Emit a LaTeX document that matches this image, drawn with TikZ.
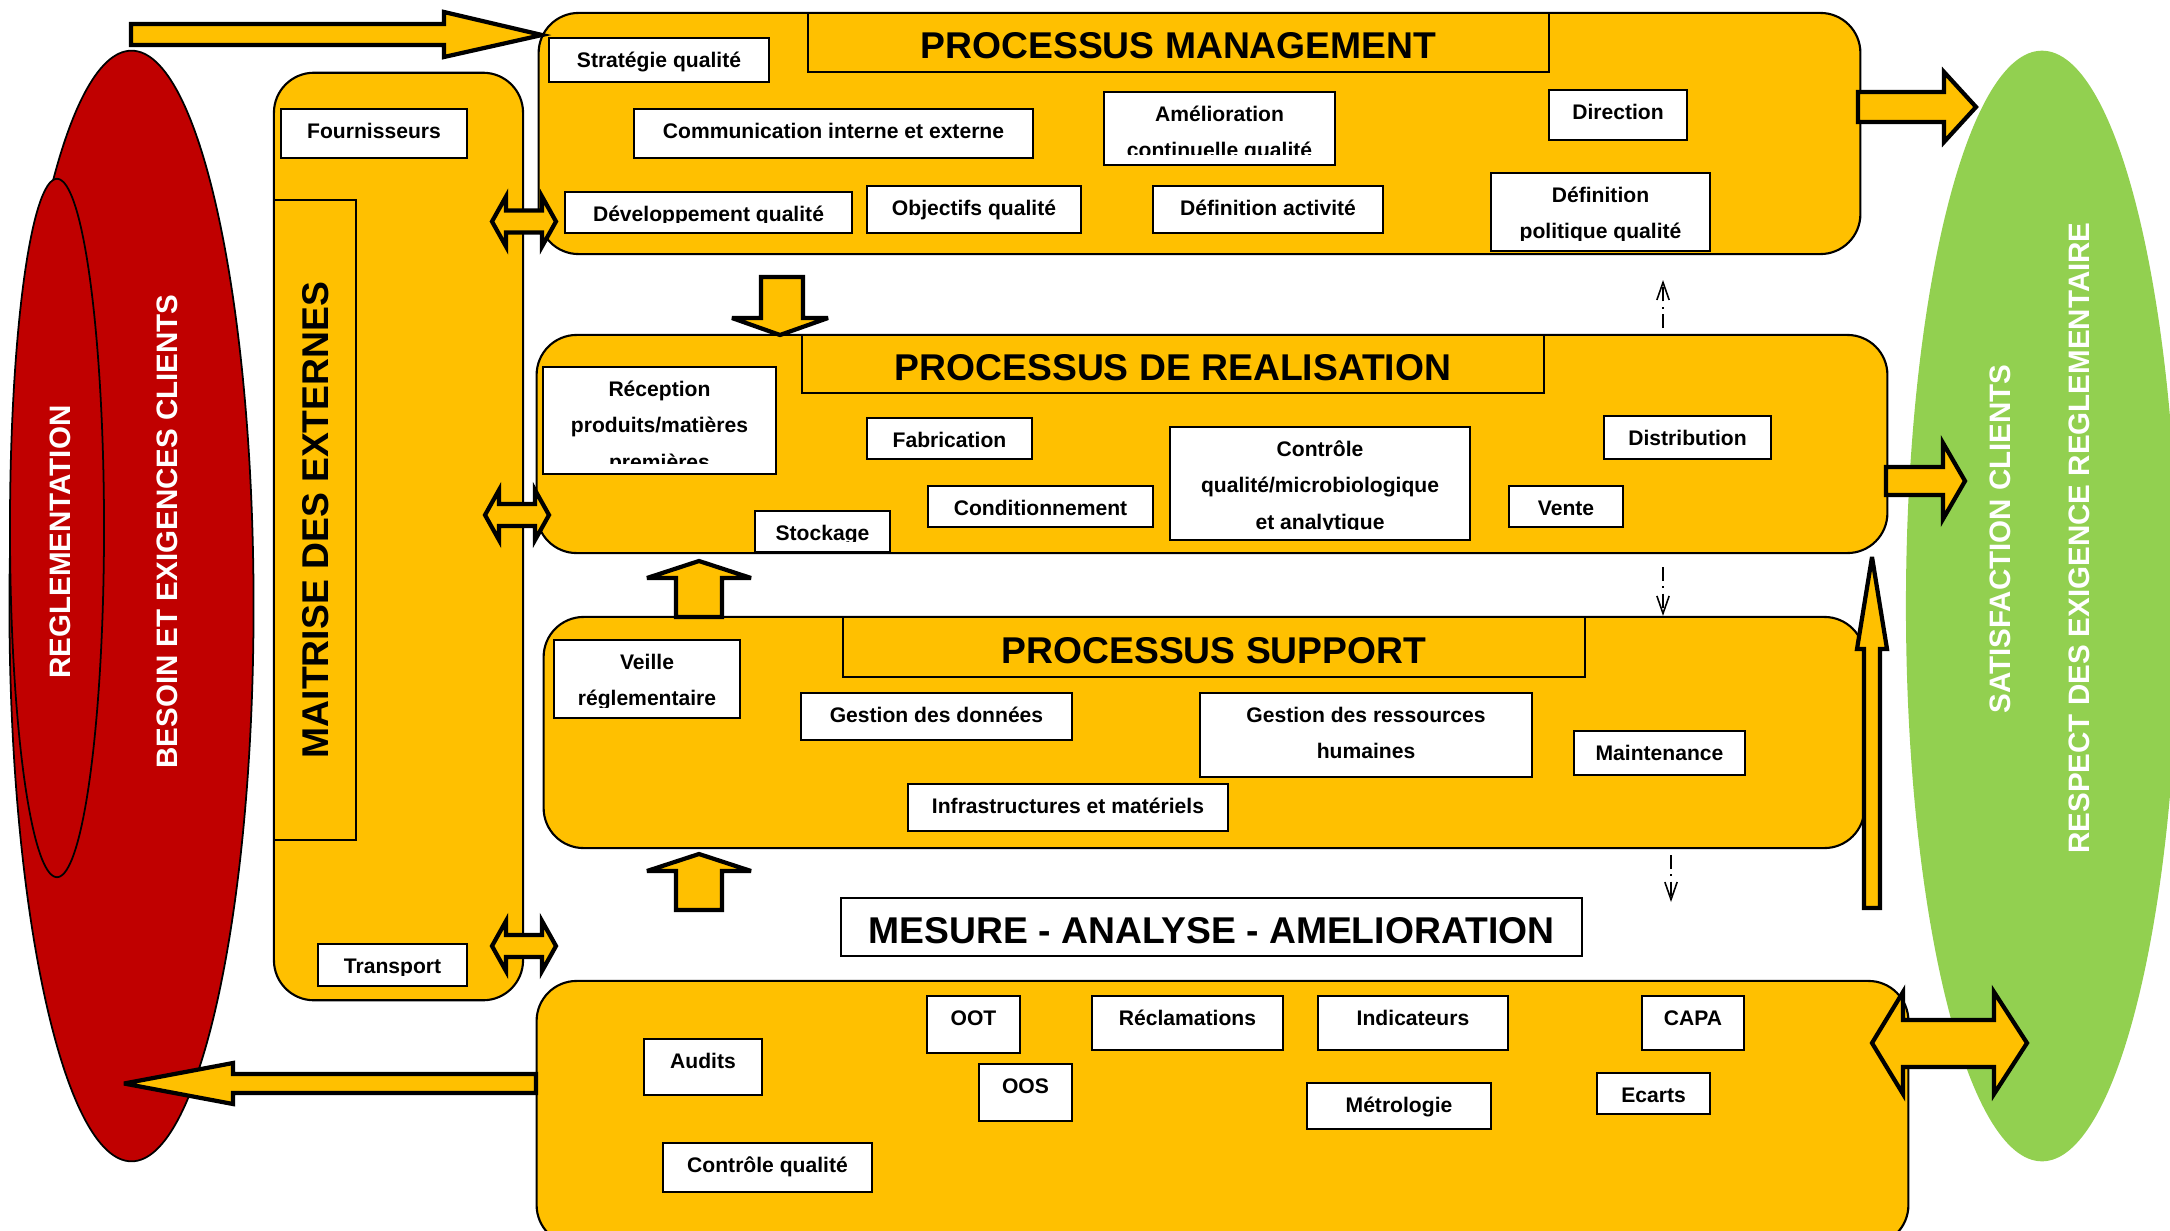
\documentclass[tikz,border=0pt]{standalone}
\usepackage{fontspec}
\setmainfont{Liberation Sans}
\usetikzlibrary{arrows.meta}
\definecolor{procyellow}{HTML}{FFC000}
\definecolor{reqred}{HTML}{C00000}
\definecolor{satgreen}{HTML}{92D050}
\newcommand\boxfont{\fontsize{6}{10.4}\selectfont\bfseries}
\newcommand\bigfont{\fontsize{10.6}{12}\selectfont\bfseries}
\newcommand\ovalfont{\fontsize{8.4}{10}\selectfont\bfseries}
\begin{document}
\begin{tikzpicture}[x=0.01cm,y=-0.01cm,
	proc/.style={draw,line width=0.6pt,fill=procyellow,rounded corners=0.4cm,inner sep=0pt},
	ptitle/.style={draw,line width=0.7pt,fill=procyellow,inner sep=0pt,font=\bigfont,text height=9.3pt,text depth=0pt},
	wbox/.style={draw,line width=0.6pt,fill=white,inner sep=0pt,
		path picture={\clip ([yshift=0.11cm]path picture bounding box.south west) rectangle (path picture bounding box.north east);
			\node[draw=none,fill=none,inner sep=0pt,minimum width=0pt,minimum height=0pt,align=center,font=\boxfont,anchor=north] at ([yshift=-0.7pt]path picture bounding box.north) {\strut #1};}},
	blockarrow/.style={draw,line width=1.2pt,fill=procyellow,line join=miter,miter limit=5},
	dasharrow/.style={line width=0.45pt,dash pattern=on 4pt off 1.5pt on 0.6pt off 1.5pt,-{Straight Barb[length=5pt,width=3.5pt]}},
	ovaltext/.style={rotate=90,text=white,font=\ovalfont,inner sep=0pt}]
	\useasboundingbox (0,0) rectangle (2170,1230);
	\clip (0,0) rectangle (2170,1230);
	% exigences / satisfaction
	\draw[fill=reqred,line width=0.5pt] (131.5,606) ellipse [x radius=1.22cm,y radius=5.55cm];
	\draw[fill=reqred,line width=0.5pt] (57,528) ellipse [x radius=0.47cm,y radius=3.49cm];
	\fill[satgreen] (2042,606) ellipse [x radius=1.36cm,y radius=5.55cm];
	\node[ovaltext] (regl) at (60,542) {REGLEMENTATION};
	\node[ovaltext] (besoin) at (167.5,531.5) {BESOIN ET EXIGENCES CLIENTS};
	\node[ovaltext] (satis) at (2000,539) {SATISFACTION CLIENTS};
	\node[ovaltext] (respect) at (2079,538) {RESPECT DES EXIGENCE REGLEMENTAIRE};
	% maitrise des externes
	\node[proc,minimum width=2.49cm,minimum height=9.27cm] (maitr) at (398.5,536.5) {};
	\node[ptitle,rotate=90,line width=0.5pt,text height=7.6pt,minimum width=6.40cm,minimum height=0.82cm] (tmaitr) at (315,520) {MAITRISE DES EXTERNES};
	\node[wbox={Fournisseurs},minimum width=1.86cm,minimum height=0.49cm] (fourn) at (374,133.5) {};
	\node[wbox={Transport},minimum width=1.49cm,minimum height=0.42cm] (transp) at (392.5,965) {};
	% processus management
	\node[proc,minimum width=13.21cm,minimum height=2.41cm] (mgmt) at (1199.5,133.5) {};
	\node[ptitle,minimum width=7.41cm,minimum height=0.59cm] (tmgmt) at (1178.5,42.5) {PROCESSUS MANAGEMENT};
	\node[wbox={Stratégie qualité},minimum width=2.20cm,minimum height=0.44cm] (strat) at (659,60) {};
	\node[wbox={Communication interne et externe},minimum width=3.99cm,minimum height=0.49cm] (comm) at (833.5,133.5) {};
	\node[wbox={Amélioration\\continuelle qualité},minimum width=2.31cm,minimum height=0.73cm] (amel) at (1219.5,128.5) {};
	\node[wbox={Direction},minimum width=1.38cm,minimum height=0.50cm] (direc) at (1618,115) {};
	\node[wbox={Développement qualité},minimum width=2.87cm,minimum height=0.41cm] (devq) at (708.5,212.5) {};
	\node[wbox={Objectifs qualité},minimum width=2.14cm,minimum height=0.47cm] (objq) at (974,209.5) {};
	\node[wbox={Définition activité},minimum width=2.30cm,minimum height=0.47cm] (defact) at (1268,209.5) {};
	\node[wbox={Définition\\politique qualité},minimum width=2.19cm,minimum height=0.78cm] (defpol) at (1600.5,212) {};
	% processus de realisation
	\node[proc,minimum width=13.50cm,minimum height=2.18cm] (real) at (1212,444) {};
	\node[ptitle,minimum width=7.42cm,minimum height=0.58cm] (treal) at (1173,364) {PROCESSUS DE REALISATION};
	\node[wbox={Réception\\produits/matières\\premières},minimum width=2.33cm,minimum height=1.07cm] (recep) at (659.5,420.5) {};
	\node[wbox={Fabrication},minimum width=1.65cm,minimum height=0.41cm] (fabr) at (949.5,438.5) {};
	\node[wbox={Conditionnement},minimum width=2.25cm,minimum height=0.41cm] (cond) at (1040.5,506.5) {};
	\node[wbox={Contrôle\\qualité/microbiologique\\et analytique},minimum width=3.00cm,minimum height=1.13cm] (ctrl) at (1320,483.5) {};
	\node[wbox={Distribution},minimum width=1.67cm,minimum height=0.43cm] (distr) at (1687.5,437.5) {};
	\node[wbox={Vente},minimum width=1.14cm,minimum height=0.41cm] (vente) at (1566,506.5) {};
	\node[wbox={Stockage},minimum width=1.35cm,minimum height=0.41cm] (stock) at (822.5,531.5) {};
	% processus support
	\node[proc,minimum width=13.20cm,minimum height=2.31cm] (supp) at (1204,732.5) {};
	\node[ptitle,minimum width=7.42cm,minimum height=0.60cm] (tsupp) at (1214,647) {PROCESSUS SUPPORT};
	\node[wbox={Veille\\réglementaire},minimum width=1.86cm,minimum height=0.78cm] (veille) at (647,679) {};
	\node[wbox={Gestion des données},minimum width=2.71cm,minimum height=0.47cm] (gdon) at (936.5,716.5) {};
	\node[wbox={Gestion des ressources\\humaines},minimum width=3.32cm,minimum height=0.84cm] (grh) at (1366,735) {};
	\node[wbox={Maintenance},minimum width=1.71cm,minimum height=0.44cm] (maint) at (1659.5,753) {};
	\node[wbox={Infrastructures et matériels},minimum width=3.20cm,minimum height=0.47cm] (infra) at (1068,807.5) {};
	% mesure - analyse - amelioration
	\node[ptitle,fill=white,minimum width=7.41cm,minimum height=0.58cm] (tmam) at (1211.5,927) {MESURE - ANALYSE - AMELIORATION};
	\node[proc,minimum width=13.71cm,minimum height=2.64cm] (mam) at (1222.5,1113) {};
	\node[wbox={Audits},minimum width=1.18cm,minimum height=0.56cm] (audits) at (703,1067) {};
	\node[wbox={OOT},minimum width=0.93cm,minimum height=0.57cm] (oot) at (973.5,1024.5) {};
	\node[wbox={Réclamations},minimum width=1.91cm,minimum height=0.54cm] (reclam) at (1187.5,1023) {};
	\node[wbox={Indicateurs},minimum width=1.90cm,minimum height=0.54cm] (indic) at (1413,1023) {};
	\node[wbox={CAPA},minimum width=1.02cm,minimum height=0.54cm] (capa) at (1693,1023) {};
	\node[wbox={OOS},minimum width=0.93cm,minimum height=0.57cm] (oos) at (1025.5,1092.5) {};
	\node[wbox={Métrologie},minimum width=1.84cm,minimum height=0.46cm] (metro) at (1399,1106) {};
	\node[wbox={Ecarts},minimum width=1.13cm,minimum height=0.41cm] (ecarts) at (1653.5,1093.5) {};
	\node[wbox={Contrôle qualité},minimum width=2.09cm,minimum height=0.49cm] (ctrlq) at (767.5,1167.5) {};
	% fleches
	\draw[blockarrow] (131,24) -- (444,24) -- (444,12) -- (542,35) -- (444,57) -- (444,45) -- (131,45) -- cycle;
	\draw[blockarrow] (536,1074) -- (233,1074) -- (233,1063) -- (124,1083.5) -- (233,1104) -- (233,1093) -- (536,1093) -- cycle;
	\draw[blockarrow] (761,277) -- (803,277) -- (803,318) -- (828,318) -- (780,335) -- (732,318) -- (761,318) -- cycle;
	\foreach \y in {617,910}
		\draw[blockarrow] (676,\y) -- (676,{\y-39}) -- (647,{\y-39}) -- (699,{\y-56}) -- (751,{\y-39}) -- (722,{\y-39}) -- (722,\y) -- cycle;
	\foreach \x/\y in {492/221.5,485/515,492/946}
		\draw[blockarrow] (\x,\y) -- ({\x+14},{\y-25}) -- ({\x+14},{\y-11}) -- ({\x+50},{\y-11}) -- ({\x+50},{\y-25}) -- ({\x+64},\y) -- ({\x+50},{\y+25}) -- ({\x+50},{\y+11}) -- ({\x+14},{\y+11}) -- ({\x+14},{\y+25}) -- cycle;
	\draw[blockarrow] (1858,92) -- (1944,92) -- (1944,72) -- (1976,107) -- (1944,142) -- (1944,122) -- (1858,122) -- cycle;
	\draw[blockarrow] (1886,467) -- (1943,467) -- (1943,443) -- (1965,481) -- (1943,519) -- (1943,495) -- (1886,495) -- cycle;
	\draw[blockarrow] (1864,908) -- (1864,649) -- (1857,649) -- (1872,557) -- (1887,649) -- (1880,649) -- (1880,908) -- cycle;
	\draw[blockarrow] (1872,1043) -- (1903,992) -- (1903,1020) -- (1994,1020) -- (1994,992) -- (2027,1043) -- (1994,1094) -- (1994,1067) -- (1903,1067) -- (1903,1094) -- cycle;
	% retours
	\coordinate (ret1) at (1663,328);
	\coordinate (ret2) at (1663,280);
	\coordinate (ret3) at (1663,567);
	\coordinate (ret4) at (1671,855);
	\coordinate (ret5) at (1671,902);
	\draw[dasharrow] (ret1) -- (ret2);
	\draw[dasharrow] (ret3) -- (supp.north -| ret3);
	\draw[dasharrow] (ret4) -- (ret5);
\end{tikzpicture}
\end{document}
